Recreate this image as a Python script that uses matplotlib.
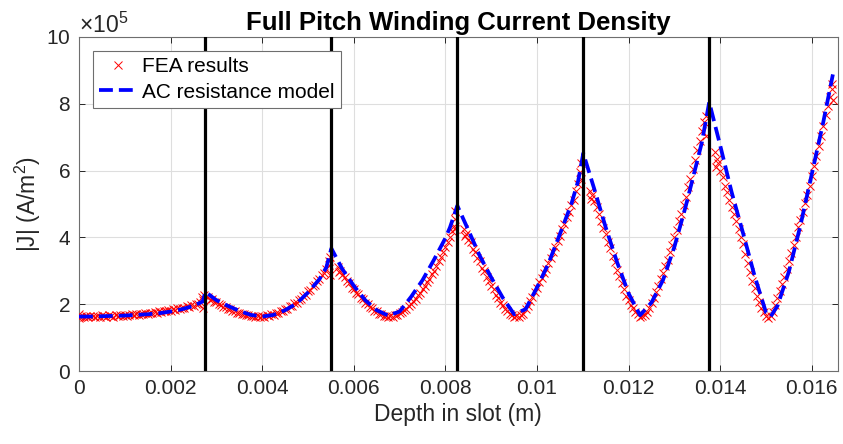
import matplotlib
matplotlib.use("Agg")
import matplotlib.pyplot as plt
from matplotlib.ticker import ScalarFormatter, FixedLocator
import numpy as np

plt.rcParams['font.family'] = ['Liberation Sans', 'DejaVu Sans']
plt.rcParams['mathtext.fontset'] = 'custom'
plt.rcParams['mathtext.rm'] = 'Liberation Sans'
plt.rcParams['mathtext.it'] = 'Liberation Sans:italic'
plt.rcParams['mathtext.bf'] = 'Liberation Sans:bold'

# ---------------- data (depth in m, |J| in units of 1e5 A/m^2) ----------------
layer_boundaries = [0.00275, 0.0055, 0.00825, 0.011, 0.01375]

model_depth = [
    0.0, 0.00025, 0.0005, 0.00075, 0.001, 0.00125, 0.0015, 0.00175, 0.002, 0.00225, 0.0025, 0.0027,
    0.00276, 0.003, 0.00325, 0.0035, 0.00375, 0.0040, 0.00425, 0.0045, 0.00475, 0.0050, 0.00525, 0.0054,
    0.00551, 0.00575, 0.0060, 0.00625, 0.0065, 0.00675, 0.0070, 0.00725, 0.0075, 0.00775, 0.0080, 0.0081,
    0.00826, 0.0085, 0.00875, 0.0090, 0.00925, 0.0095, 0.00975, 0.0100, 0.01025, 0.0105, 0.01075, 0.0109,
    0.01101, 0.01125, 0.0115, 0.01175, 0.0120, 0.01225, 0.0125, 0.01275, 0.0130, 0.01325, 0.0135, 0.0136,
    0.01376, 0.0140, 0.01425, 0.0145, 0.01475, 0.0150, 0.0151, 0.01525, 0.0155, 0.01575, 0.0160, 0.01625,
    0.01646,
]
model_j = [
    1.63, 1.63, 1.64, 1.65, 1.66, 1.68, 1.70, 1.73, 1.78, 1.85, 1.95, 2.08,
    2.37, 2.12, 1.95, 1.80, 1.68, 1.63, 1.68, 1.82, 2.02, 2.35, 2.75, 3.10,
    3.67, 3.05, 2.55, 2.12, 1.82, 1.66, 1.78, 2.22, 2.72, 3.33, 3.98, 4.30,
    4.95, 4.22, 3.45, 2.80, 2.20, 1.70, 1.85, 2.50, 3.22, 4.10, 5.00, 5.70,
    6.52, 5.45, 4.30, 3.25, 2.32, 1.67, 2.05, 2.72, 3.72, 4.95, 6.30, 6.85,
    8.05, 6.75, 5.35, 4.12, 2.85, 1.75, 1.63, 1.95, 2.98, 4.35, 5.90, 7.45,
    8.88,
]

# FEA results, one list pair per conductor layer
fea_depth_l1 = [0.0, 0.0, 0.00002, 0.00005, 0.0001, 0.00015, 0.0002, 0.00025, 0.0003, 0.00035, 0.0004,
                0.00045, 0.0005, 0.00055, 0.0006, 0.00065, 0.0007, 0.00075, 0.0008, 0.00085, 0.0009,
                0.00095, 0.001, 0.00105, 0.0011, 0.00115, 0.0012, 0.00125, 0.0013, 0.00135, 0.0014,
                0.00145, 0.0015, 0.00155, 0.0016, 0.00165, 0.0017, 0.00175, 0.0018, 0.00185, 0.0019,
                0.00195, 0.002, 0.00205, 0.0021, 0.00215, 0.0022, 0.00225, 0.0023, 0.00235, 0.0024,
                0.00245, 0.0025, 0.00255, 0.0026, 0.00265, 0.00268, 0.0027, 0.00271, 0.00272]
fea_j_l1 = [1.58, 1.72, 1.62, 1.66, 1.63, 1.65, 1.61, 1.66, 1.64, 1.62, 1.66,
            1.63, 1.67, 1.64, 1.62, 1.67, 1.65, 1.63, 1.68, 1.65, 1.67,
            1.64, 1.69, 1.66, 1.68, 1.70, 1.67, 1.71, 1.69, 1.72, 1.70,
            1.74, 1.72, 1.75, 1.73, 1.77, 1.75, 1.79, 1.77, 1.81, 1.79,
            1.83, 1.81, 1.85, 1.84, 1.88, 1.86, 1.90, 1.89, 1.94, 1.92,
            1.97, 1.96, 2.01, 2.02, 2.08, 2.22, 2.14, 1.90, 2.28]

fea_depth_l2 = [0.00282, 0.00285, 0.0029, 0.00295, 0.003, 0.00305, 0.0031, 0.00315, 0.0032, 0.00325,
                0.0033, 0.00335, 0.0034, 0.00345, 0.0035, 0.00355, 0.0036, 0.00365, 0.0037, 0.00375,
                0.0038, 0.00385, 0.0039, 0.00395, 0.004, 0.00405, 0.0041, 0.00415, 0.0042, 0.00425,
                0.0043, 0.00435, 0.0044, 0.00445, 0.0045, 0.00455, 0.0046, 0.00465, 0.0047, 0.00475,
                0.0048, 0.00485, 0.0049, 0.00495, 0.005, 0.00505, 0.0051, 0.00515, 0.0052, 0.00525,
                0.0053, 0.00535, 0.0054, 0.00545, 0.00546, 0.00547, 0.00548]
fea_j_l2 = [2.22, 2.12, 2.16, 2.08, 2.06, 2.01, 1.98, 1.93, 1.91, 1.86,
            1.85, 1.80, 1.80, 1.75, 1.75, 1.71, 1.71, 1.67, 1.68, 1.64,
            1.66, 1.62, 1.65, 1.62, 1.66, 1.63, 1.67, 1.65, 1.70, 1.68,
            1.74, 1.73, 1.80, 1.79, 1.87, 1.86, 1.95, 1.95, 2.04, 2.05,
            2.14, 2.16, 2.26, 2.29, 2.39, 2.43, 2.54, 2.58, 2.70, 2.74,
            2.86, 2.92, 3.05, 3.18, 3.30, 2.88, 3.42]

fea_depth_l3 = [0.00565, 0.00567, 0.0057, 0.00575, 0.0058, 0.00585, 0.0059, 0.00595, 0.006, 0.00605,
                0.0061, 0.00615, 0.0062, 0.00625, 0.0063, 0.00635, 0.0064, 0.00645, 0.0065, 0.00655,
                0.0066, 0.00665, 0.0067, 0.00675, 0.0068, 0.00685, 0.0069, 0.00695, 0.007, 0.00705,
                0.0071, 0.00715, 0.0072, 0.00725, 0.0073, 0.00735, 0.0074, 0.00745, 0.0075, 0.00755,
                0.0076, 0.00765, 0.0077, 0.00775, 0.0078, 0.00785, 0.0079, 0.00795, 0.008, 0.00805,
                0.0081, 0.00815, 0.00818, 0.0082, 0.00821, 0.00822]
fea_j_l3 = [3.12, 2.95, 3.00, 2.87, 2.80, 2.68, 2.62, 2.50, 2.45, 2.34,
            2.30, 2.19, 2.15, 2.05, 2.02, 1.92, 1.89, 1.81, 1.79, 1.72,
            1.70, 1.65, 1.65, 1.61, 1.64, 1.62, 1.67, 1.68, 1.74, 1.76,
            1.83, 1.87, 1.95, 2.00, 2.10, 2.16, 2.27, 2.34, 2.45, 2.54,
            2.66, 2.76, 2.90, 3.00, 3.15, 3.28, 3.42, 3.56, 3.72, 3.86,
            4.02, 4.20, 4.35, 4.55, 4.80, 4.25]

fea_depth_l4 = [0.0084, 0.00842, 0.00845, 0.0085, 0.00855, 0.0086, 0.00865, 0.0087, 0.00875, 0.0088,
                0.00885, 0.0089, 0.00895, 0.009, 0.00905, 0.0091, 0.00915, 0.0092, 0.00925, 0.0093,
                0.00935, 0.0094, 0.00945, 0.0095, 0.00955, 0.0096, 0.00965, 0.0097, 0.00975, 0.0098,
                0.00985, 0.0099, 0.00995, 0.01, 0.01005, 0.0101, 0.01015, 0.0102, 0.01025, 0.0103,
                0.01035, 0.0104, 0.01045, 0.0105, 0.01055, 0.0106, 0.01065, 0.0107, 0.01075, 0.0108,
                0.01085, 0.0109, 0.01093, 0.01095, 0.01096]
fea_j_l4 = [4.25, 4.05, 4.10, 3.92, 3.85, 3.66, 3.56, 3.38, 3.28, 3.08,
            2.98, 2.80, 2.70, 2.53, 2.45, 2.28, 2.20, 2.05, 1.98, 1.85,
            1.80, 1.70, 1.68, 1.62, 1.64, 1.61, 1.68, 1.72, 1.85, 1.95,
            2.10, 2.22, 2.38, 2.50, 2.66, 2.78, 2.94, 3.06, 3.24, 3.38,
            3.56, 3.70, 3.90, 4.04, 4.25, 4.40, 4.60, 4.75, 4.96, 5.12,
            5.38, 5.60, 5.95, 5.75, 6.22]

fea_depth_l5 = [0.01115, 0.01117, 0.0112, 0.01125, 0.0113, 0.01135, 0.0114, 0.01145, 0.0115, 0.01155,
                0.0116, 0.01165, 0.0117, 0.01175, 0.0118, 0.01185, 0.0119, 0.01195, 0.012, 0.01205,
                0.0121, 0.01215, 0.0122, 0.01225, 0.0123, 0.01235, 0.0124, 0.01245, 0.0125, 0.01255,
                0.0126, 0.01265, 0.0127, 0.01275, 0.0128, 0.01285, 0.0129, 0.01295, 0.013, 0.01305,
                0.0131, 0.01315, 0.0132, 0.01325, 0.0133, 0.01335, 0.0134, 0.01345, 0.0135, 0.01355,
                0.0136, 0.01365, 0.01368, 0.0137]
fea_j_l5 = [5.40, 5.15, 5.28, 5.08, 4.92, 4.70, 4.50, 4.28, 4.10, 3.85,
            3.68, 3.44, 3.25, 3.02, 2.85, 2.62, 2.45, 2.26, 2.12, 1.98,
            1.88, 1.76, 1.70, 1.62, 1.65, 1.68, 1.78, 1.90, 2.05, 2.20,
            2.38, 2.55, 2.75, 2.92, 3.15, 3.32, 3.56, 3.76, 4.00, 4.22,
            4.48, 4.70, 4.98, 5.22, 5.50, 5.76, 6.05, 6.32, 6.62, 6.88,
            7.18, 7.45, 7.62, 7.05]

fea_depth_l6 = [0.01388, 0.0139, 0.01392, 0.01395, 0.014, 0.01405, 0.0141, 0.01415, 0.0142, 0.01425,
                0.0143, 0.01435, 0.0144, 0.01445, 0.0145, 0.01455, 0.0146, 0.01465, 0.0147, 0.01475,
                0.0148, 0.01485, 0.0149, 0.01495, 0.015, 0.01505, 0.0151, 0.01515, 0.0152, 0.01525,
                0.0153, 0.01535, 0.0154, 0.01545, 0.0155, 0.01555, 0.0156, 0.01565, 0.0157, 0.01575,
                0.0158, 0.01585, 0.0159, 0.01595, 0.016, 0.01605, 0.0161, 0.01615, 0.0162, 0.01625,
                0.0163, 0.01635, 0.0164, 0.01643, 0.01645, 0.01646]
fea_j_l6 = [6.55, 6.10, 6.35, 6.22, 5.98, 5.80, 5.55, 5.35, 5.12, 4.92,
            4.70, 4.48, 4.25, 4.02, 3.80, 3.50, 3.22, 2.96, 2.70, 2.48,
            2.25, 2.06, 1.90, 1.76, 1.66, 1.58, 1.65, 1.78, 1.98, 2.18,
            2.40, 2.60, 2.82, 3.05, 3.30, 3.52, 3.78, 4.02, 4.30, 4.52,
            4.75, 5.02, 5.28, 5.55, 5.85, 6.15, 6.45, 6.75, 7.05, 7.35,
            7.65, 7.92, 8.20, 8.45, 8.60, 8.10]

x_ticks = [0, 0.002, 0.004, 0.006, 0.008, 0.010, 0.012, 0.014, 0.016]
x_tick_labels = ["0", "0.002", "0.004", "0.006", "0.008", "0.01", "0.012", "0.014", "0.016"]
y_ticks = [0, 2e5, 4e5, 6e5, 8e5, 10e5]
j_unit = 1e5

# ---------------- figure ----------------
fig = plt.figure(figsize=(8.43, 4.44), dpi=100)
ax = fig.add_axes([79 / 843, 1 - 371 / 444, (837.7 - 79) / 843, (371 - 37) / 444])

fea_x = np.concatenate([fea_depth_l1, fea_depth_l2, fea_depth_l3, fea_depth_l4, fea_depth_l5, fea_depth_l6])
fea_y = np.concatenate([fea_j_l1, fea_j_l2, fea_j_l3, fea_j_l4, fea_j_l5, fea_j_l6]) * j_unit

ax.plot(fea_x, fea_y, linestyle='none', marker='x', color='red', markersize=5.5,
        markeredgewidth=0.7, label='FEA results', zorder=3)
ax.plot(model_depth, np.array(model_j) * j_unit, linestyle='--', color=(0, 0, 1), linewidth=2.7,
        label='AC resistance model', zorder=4)
for xb in layer_boundaries:
    ax.axvline(xb, color='black', linewidth=2.3, zorder=5)

ax.set_xlim(0, 0.016565)
ax.set_ylim(0, 10e5)
ax.xaxis.set_major_locator(FixedLocator(x_ticks))
ax.set_xticklabels(x_tick_labels)
ax.yaxis.set_major_locator(FixedLocator(y_ticks))
fmt = ScalarFormatter(useMathText=True)
fmt.set_powerlimits((5, 5))
ax.yaxis.set_major_formatter(fmt)
ax.yaxis.get_offset_text().set_fontsize(16.5)
ax.yaxis.get_offset_text().set_color('#262626')

ax.grid(True, color='#dedede', linewidth=0.8)
ax.set_axisbelow(True)
ax.tick_params(direction='in', top=True, right=True, length=4.5, width=0.7,
               labelsize=15, colors='#262626', pad=6)
for s in ax.spines.values():
    s.set_color('#6e6e6e')
    s.set_linewidth(0.8)

ax.set_xlabel('Depth in slot (m)', fontsize=16.5, color='#262626', labelpad=3)
ax.set_ylabel('|J| (A/m$^2$)', fontsize=16.5, color='#262626', labelpad=2)
ax.set_title('Full Pitch Winding Current Density', fontsize=18.5, fontweight='bold', pad=5)

leg = ax.legend(loc='upper left', bbox_to_anchor=(0.0185, 0.958), borderaxespad=0,
                fontsize=15, frameon=True, fancybox=False, framealpha=1,
                edgecolor='#6e6e6e', handlelength=1.75, handletextpad=0.3,
                borderpad=0.3, labelspacing=0.3)
leg.get_frame().set_linewidth(0.8)

fig.savefig('out.png', dpi=100)
